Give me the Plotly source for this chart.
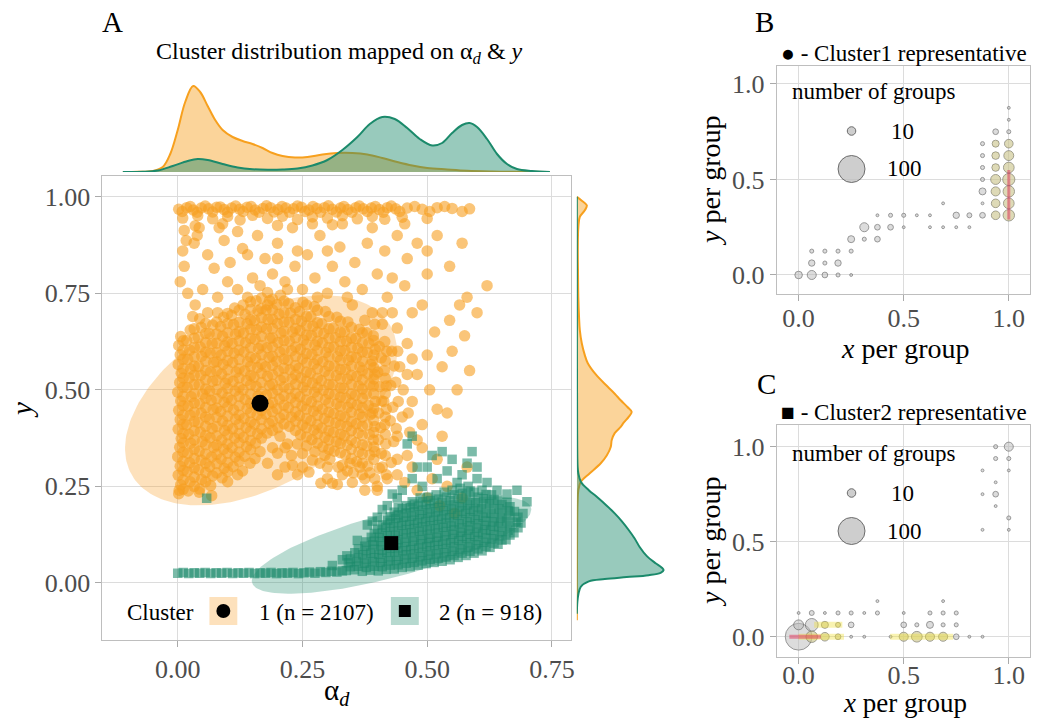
import numpy as np
import plotly.graph_objects as go

W, H = 1039, 724
FONT = "Liberation Serif"

# ---------------- Panel A data ----------------
orange_core = [
 (0.002,0.231),(0.006,0.254),(0.001,0.279),(0.005,0.302),(0.000,0.327),(0.004,0.351),(0.007,0.374),(0.001,0.398),(0.005,0.423),(0.002,0.447),(0.006,0.471),(0.000,0.494),(0.004,0.519),(0.007,0.543),(0.001,0.566),(0.005,0.591),(0.002,0.615),(0.006,0.638),
 (0.021,0.238),(0.025,0.262),(0.019,0.288),(0.024,0.311),(0.020,0.336),(0.026,0.362),(0.022,0.385),(0.018,0.409),(0.025,0.434),(0.021,0.458),(0.027,0.482),(0.019,0.506),(0.023,0.531),(0.026,0.554),(0.020,0.579),(0.024,0.603),(0.018,0.628),(0.025,0.655),
 (0.044,0.243),(0.048,0.268),(0.042,0.293),(0.047,0.318),(0.043,0.341),(0.049,0.366),(0.045,0.391),(0.041,0.415),(0.047,0.44),(0.044,0.464),(0.05,0.489),(0.043,0.513),(0.046,0.538),(0.042,0.561),(0.048,0.587),(0.045,0.611),(0.041,0.636),(0.047,0.662),(0.044,0.684),
 (0.066,0.252),(0.07,0.277),(0.064,0.301),(0.068,0.326),(0.072,0.351),(0.065,0.376),(0.069,0.4),(0.063,0.424),(0.071,0.449),(0.067,0.473),(0.064,0.497),(0.07,0.522),(0.066,0.547),(0.072,0.571),(0.065,0.595),(0.069,0.62),(0.063,0.646),(0.07,0.668),
 (0.089,0.272),(0.093,0.297),(0.087,0.321),(0.092,0.346),(0.088,0.37),(0.094,0.395),(0.09,0.419),(0.086,0.444),(0.093,0.468),(0.089,0.492),(0.095,0.517),(0.088,0.541),(0.091,0.566),(0.087,0.59),(0.094,0.614),(0.09,0.639),(0.086,0.664),(0.092,0.688),
 (0.111,0.301),(0.115,0.326),(0.109,0.35),(0.114,0.375),(0.11,0.399),(0.116,0.424),(0.112,0.448),(0.108,0.473),(0.115,0.497),(0.111,0.522),(0.117,0.546),(0.11,0.571),(0.113,0.595),(0.109,0.62),(0.116,0.644),(0.112,0.669),(0.108,0.693),(0.114,0.712),
 (0.134,0.328),(0.138,0.353),(0.132,0.377),(0.137,0.402),(0.133,0.426),(0.139,0.451),(0.135,0.475),(0.131,0.5),(0.138,0.524),(0.134,0.549),(0.14,0.573),(0.133,0.598),(0.136,0.622),(0.132,0.647),(0.139,0.671),(0.135,0.696),(0.131,0.72),
 (0.156,0.362),(0.16,0.386),(0.154,0.411),(0.159,0.435),(0.155,0.46),(0.161,0.484),(0.157,0.509),(0.153,0.533),(0.16,0.558),(0.156,0.582),(0.162,0.607),(0.155,0.631),(0.158,0.656),(0.154,0.68),(0.161,0.705),(0.157,0.731),
 (0.179,0.388),(0.183,0.413),(0.177,0.437),(0.182,0.462),(0.178,0.486),(0.184,0.511),(0.18,0.535),(0.176,0.56),(0.183,0.584),(0.179,0.609),(0.185,0.633),(0.178,0.658),(0.181,0.682),(0.177,0.707),(0.184,0.731),(0.18,0.752),
 (0.201,0.402),(0.205,0.427),(0.199,0.451),(0.204,0.476),(0.2,0.5),(0.206,0.525),(0.202,0.549),(0.198,0.574),(0.205,0.598),(0.201,0.623),(0.207,0.647),(0.2,0.672),(0.203,0.696),(0.199,0.721),(0.206,0.745),
 (0.224,0.405),(0.228,0.43),(0.222,0.454),(0.227,0.479),(0.223,0.503),(0.229,0.528),(0.225,0.552),(0.221,0.577),(0.228,0.601),(0.224,0.626),(0.23,0.65),(0.223,0.675),(0.226,0.699),(0.222,0.724),
 (0.246,0.384),(0.25,0.409),(0.244,0.433),(0.249,0.458),(0.245,0.482),(0.251,0.507),(0.247,0.531),(0.243,0.556),(0.25,0.58),(0.246,0.605),(0.252,0.629),(0.245,0.654),(0.248,0.678),(0.244,0.703),(0.251,0.727),
 (0.269,0.371),(0.273,0.396),(0.267,0.42),(0.272,0.445),(0.268,0.469),(0.274,0.494),(0.27,0.518),(0.266,0.543),(0.273,0.567),(0.269,0.592),(0.275,0.616),(0.268,0.641),(0.271,0.665),(0.267,0.69),(0.274,0.716),
 (0.291,0.352),(0.295,0.377),(0.289,0.401),(0.294,0.426),(0.29,0.45),(0.296,0.475),(0.292,0.499),(0.288,0.524),(0.295,0.548),(0.291,0.573),(0.297,0.597),(0.29,0.622),(0.293,0.646),(0.289,0.671),(0.296,0.703),
 (0.314,0.341),(0.318,0.366),(0.312,0.39),(0.317,0.415),(0.313,0.439),(0.319,0.464),(0.315,0.488),(0.311,0.513),(0.318,0.537),(0.314,0.562),(0.32,0.586),(0.313,0.611),(0.316,0.635),(0.312,0.66),(0.319,0.688),
 (0.336,0.332),(0.34,0.357),(0.334,0.381),(0.339,0.406),(0.335,0.43),(0.341,0.455),(0.337,0.479),(0.333,0.504),(0.34,0.528),(0.336,0.553),(0.342,0.577),(0.335,0.602),(0.338,0.626),(0.334,0.651),(0.341,0.676),
 (0.359,0.314),(0.363,0.339),(0.357,0.363),(0.362,0.388),(0.358,0.412),(0.364,0.437),(0.36,0.461),(0.356,0.486),(0.363,0.51),(0.359,0.535),(0.365,0.559),(0.358,0.584),(0.361,0.608),(0.357,0.633),(0.364,0.657),
 (0.381,0.303),(0.385,0.331),(0.379,0.355),(0.384,0.384),(0.38,0.409),(0.386,0.436),(0.382,0.46),(0.378,0.489),(0.385,0.515),(0.381,0.542),(0.387,0.566),(0.38,0.597),(0.383,0.621),(0.379,0.648),
 (0.404,0.297),(0.408,0.335),(0.402,0.371),(0.407,0.402),(0.403,0.44),(0.409,0.471),(0.405,0.508),(0.401,0.546),(0.408,0.583),(0.404,0.612),
 (0.428,0.312),(0.433,0.366),(0.426,0.42),(0.431,0.455),(0.427,0.511),(0.434,0.562),(0.429,0.6),
]
# second, offset layer of the dense core: column x -> y values
orange_core_cols = {
 0.011: [0.243,0.267,0.291,0.315,0.339,0.363,0.387,0.411,0.435,0.459,0.483,0.507,0.531,0.555,0.579,0.603,0.627],
 0.033: [0.25,0.274,0.298,0.322,0.346,0.37,0.394,0.418,0.442,0.466,0.49,0.514,0.538,0.562,0.586,0.61,0.634,0.658],
 0.056: [0.262,0.286,0.31,0.334,0.358,0.382,0.406,0.43,0.454,0.478,0.502,0.526,0.55,0.574,0.598,0.622,0.646,0.672],
 0.078: [0.285,0.309,0.333,0.357,0.381,0.405,0.429,0.453,0.477,0.501,0.525,0.549,0.573,0.597,0.621,0.645,0.676],
 0.100: [0.288,0.312,0.336,0.36,0.384,0.408,0.432,0.456,0.48,0.504,0.528,0.552,0.576,0.6,0.624,0.648,0.672,0.698],
 0.123: [0.315,0.339,0.363,0.387,0.411,0.435,0.459,0.483,0.507,0.531,0.555,0.579,0.603,0.627,0.651,0.675,0.706],
 0.146: [0.345,0.369,0.393,0.417,0.441,0.465,0.489,0.513,0.537,0.561,0.585,0.609,0.633,0.657,0.681,0.708,0.728],
 0.168: [0.375,0.399,0.423,0.447,0.471,0.495,0.519,0.543,0.567,0.591,0.615,0.639,0.663,0.687,0.711,0.738],
 0.190: [0.395,0.419,0.443,0.467,0.491,0.515,0.539,0.563,0.587,0.611,0.635,0.659,0.683,0.707,0.735],
 0.213: [0.412,0.436,0.46,0.484,0.508,0.532,0.556,0.58,0.604,0.628,0.652,0.676,0.7,0.73],
 0.236: [0.395,0.419,0.443,0.467,0.491,0.515,0.539,0.563,0.587,0.611,0.635,0.659,0.683,0.713],
 0.258: [0.378,0.402,0.426,0.45,0.474,0.498,0.522,0.546,0.57,0.594,0.618,0.642,0.666,0.69,0.72],
 0.280: [0.362,0.386,0.41,0.434,0.458,0.482,0.506,0.53,0.554,0.578,0.602,0.626,0.65,0.674,0.706],
 0.303: [0.346,0.37,0.394,0.418,0.442,0.466,0.49,0.514,0.538,0.562,0.586,0.61,0.634,0.658,0.69],
 0.326: [0.337,0.361,0.385,0.409,0.433,0.457,0.481,0.505,0.529,0.553,0.577,0.601,0.625,0.649,0.678],
 0.348: [0.322,0.346,0.37,0.394,0.418,0.442,0.466,0.49,0.514,0.538,0.562,0.586,0.61,0.634,0.662],
 0.370: [0.31,0.334,0.358,0.382,0.406,0.43,0.454,0.478,0.502,0.526,0.55,0.574,0.598,0.622,0.648],
 0.393: [0.32,0.352,0.39,0.421,0.452,0.49,0.528,0.557,0.59,0.628],
 0.416: [0.33,0.385,0.43,0.49,0.53,0.575],
}
orange_lower_right = [
 (0.205,0.38),(0.215,0.35),(0.228,0.33),(0.24,0.36),(0.25,0.335),(0.258,0.355),(0.275,0.34),(0.285,0.31),(0.295,0.33),(0.3,0.3),(0.305,0.32),(0.322,0.3),
 (0.33,0.28),(0.345,0.31),(0.352,0.285),(0.365,0.3),(0.37,0.28),(0.385,0.285),(0.395,0.27),(0.41,0.3),(0.418,0.28),(0.25,0.3),(0.24,0.28),(0.215,0.3),
 (0.3,0.27),(0.32,0.255),(0.35,0.26),(0.4,0.24),(0.375,0.24),(0.19,0.35),(0.165,0.34),(0.145,0.31),(0.12,0.28),(0.2,0.28),
 (0.395,0.34),(0.392,0.37),(0.395,0.405),(0.39,0.44),(0.396,0.47),(0.392,0.51),(0.395,0.54),(0.39,0.575),(0.396,0.605),(0.392,0.64),(0.417,0.36),(0.415,0.41),
 (0.418,0.45),(0.413,0.47),(0.418,0.51),(0.414,0.55),(0.419,0.6),(0.415,0.625),(0.44,0.32),(0.438,0.4),(0.442,0.47),(0.437,0.52),(0.441,0.6),(0.462,0.44),
 (0.46,0.54),(0.465,0.39),(0.47,0.58),(0.375,0.68),(0.395,0.67),(0.41,0.7),
]
orange_band = [
 (0.002,0.968),(0.018,0.972),(0.031,0.966),(0.047,0.971),(0.062,0.969),(0.078,0.973),(0.093,0.967),(0.108,0.971),(0.124,0.968),(0.139,0.973),(0.155,0.966),(0.171,0.97),
 (0.186,0.972),(0.201,0.967),(0.217,0.971),(0.232,0.969),(0.248,0.973),(0.263,0.966),(0.279,0.97),(0.294,0.972),(0.31,0.968),(0.326,0.971),(0.341,0.967),(0.357,0.972),
 (0.372,0.969),(0.388,0.971),(0.404,0.967),(0.42,0.972),(0.437,0.969),(0.46,0.971),(0.49,0.968),(0.52,0.972),(0.55,0.97),(0.585,0.969),
 (0.009,0.962),(0.025,0.975),(0.039,0.96),(0.055,0.976),(0.07,0.961),(0.085,0.974),(0.1,0.96),(0.116,0.976),(0.131,0.962),(0.147,0.975),(0.163,0.96),(0.178,0.977),
 (0.193,0.961),(0.209,0.975),(0.224,0.96),(0.24,0.976),(0.255,0.962),(0.271,0.975),(0.286,0.96),(0.302,0.977),(0.318,0.961),(0.333,0.975),(0.349,0.96),(0.364,0.976),
 (0.38,0.962),(0.396,0.975),(0.412,0.96),(0.428,0.976),(0.445,0.962),(0.475,0.975),(0.505,0.962),(0.535,0.975),(0.57,0.962),
 (0.01,0.945),(0.04,0.951),(0.07,0.943),(0.1,0.949),(0.125,0.94),(0.15,0.952),(0.18,0.944),(0.21,0.95),(0.24,0.941),(0.27,0.948),(0.3,0.945),(0.33,0.951),
 (0.36,0.943),(0.39,0.949),(0.415,0.942),(0.45,0.947),(0.5,0.944),(0.035,0.925),(0.09,0.93),(0.2,0.926),(0.31,0.928),
]
orange_sparse = [
 (0.01,0.86),(0.013,0.82),(0.017,0.887),(0.033,0.88),(0.039,0.9),(0.013,0.913),(0.073,0.815),(0.093,0.887),(0.13,0.866),(0.14,0.85),(0.083,0.92),(0.043,0.92),
 (0.005,0.78),(0.02,0.75),(0.035,0.72),(0.05,0.76),(0.06,0.7),(0.08,0.74),(0.1,0.78),(0.12,0.76),(0.105,0.83),(0.15,0.79),(0.165,0.77),(0.19,0.8),(0.175,0.84),
 (0.2,0.88),(0.215,0.78),(0.235,0.82),(0.25,0.76),(0.26,0.85),(0.275,0.79),(0.285,0.9),(0.3,0.75),(0.31,0.82),(0.325,0.87),(0.335,0.78),(0.35,0.72),(0.355,0.83),
 (0.37,0.76),(0.38,0.88),(0.39,0.7),(0.4,0.8),(0.41,0.67),(0.415,0.86),(0.43,0.79),(0.44,0.9),(0.46,0.84),(0.48,0.88),(0.5,0.86),(0.52,0.9),(0.545,0.82),(0.57,0.88),
 (0.23,0.92),(0.16,0.9),(0.06,0.85),(0.12,0.91),(0.27,0.93),(0.33,0.93),(0.39,0.92),(0.455,0.93),(0.18,0.72),(0.22,0.76),(0.28,0.74),(0.34,0.74),(0.14,0.74),
 (0.08,0.7),(0.03,0.69),(0.24,0.86),(0.3,0.86),(0.2,0.84),
]
orange_outliers = [
 (0.13,0.29),(0.18,0.31),(0.2,0.336),(0.22,0.36),(0.23,0.305),(0.27,0.318),(0.263,0.287),(0.287,0.258),(0.31,0.258),(0.003,0.24),(0.043,0.235),(0.068,0.226),
 (0.1,0.262),(0.155,0.322),(0.34,0.29),(0.33,0.305),
 (0.44,0.28),(0.455,0.26),(0.47,0.3),(0.48,0.24),(0.5,0.22),(0.51,0.27),(0.525,0.2),(0.54,0.25),(0.555,0.18),(0.57,0.22),(0.46,0.33),(0.42,0.27),(0.4,0.25),
 (0.375,0.27),(0.49,0.35),(0.52,0.32),(0.58,0.3),
 (0.44,0.38),(0.45,0.43),(0.452,0.5),(0.445,0.56),(0.46,0.62),(0.44,0.66),(0.47,0.47),(0.48,0.54),(0.49,0.41),(0.5,0.59),(0.505,0.5),(0.52,0.45),(0.515,0.65),
 (0.53,0.56),(0.545,0.68),(0.55,0.6),(0.56,0.5),(0.565,0.72),(0.58,0.74),(0.575,0.64),(0.6,0.7),(0.62,0.77),(0.47,0.7),(0.49,0.72),(0.43,0.7),(0.42,0.74),
 (0.455,0.77),(0.5,0.8),(0.48,0.37),(0.53,0.38),(0.54,0.44),(0.585,0.55),
]
green_line = [
 (0.0,0.025),(0.011,0.027),(0.022,0.024),(0.033,0.026),(0.044,0.025),(0.055,0.027),(0.066,0.024),(0.077,0.026),(0.088,0.025),(0.099,0.027),(0.11,0.024),
 (0.121,0.026),(0.132,0.025),(0.143,0.027),(0.154,0.024),(0.165,0.026),(0.176,0.025),(0.187,0.027),(0.198,0.024),(0.209,0.026),(0.22,0.025),(0.231,0.027),
 (0.242,0.024),(0.253,0.026),(0.264,0.028),(0.275,0.025),(0.286,0.029),(0.297,0.027),(0.308,0.03),(0.319,0.028),(0.33,0.031),
]
green_blob = [
 (0.338,0.032),(0.342,0.052),(0.339,0.07),(0.354,0.034),(0.358,0.055),(0.355,0.078),
 (0.37,0.03),(0.374,0.051),(0.371,0.073),(0.375,0.095),(0.386,0.033),(0.39,0.055),(0.387,0.077),(0.391,0.099),(0.388,0.118),
 (0.402,0.031),(0.406,0.053),(0.403,0.074),(0.407,0.096),(0.404,0.118),(0.401,0.139),
 (0.418,0.035),(0.422,0.057),(0.419,0.079),(0.423,0.1),(0.42,0.122),(0.417,0.144),(0.421,0.162),
 (0.434,0.036),(0.438,0.058),(0.435,0.08),(0.439,0.101),(0.436,0.123),(0.433,0.145),(0.437,0.167),(0.434,0.183),
 (0.45,0.04),(0.454,0.062),(0.451,0.083),(0.455,0.105),(0.452,0.127),(0.449,0.149),(0.453,0.17),(0.45,0.192),
 (0.466,0.042),(0.47,0.064),(0.467,0.086),(0.471,0.108),(0.468,0.13),(0.465,0.151),(0.469,0.173),(0.466,0.195),(0.47,0.21),
 (0.482,0.046),(0.486,0.068),(0.483,0.09),(0.487,0.112),(0.484,0.134),(0.481,0.155),(0.485,0.177),(0.482,0.199),(0.486,0.22),
 (0.498,0.05),(0.502,0.072),(0.499,0.094),(0.503,0.115),(0.5,0.137),(0.497,0.159),(0.501,0.181),(0.498,0.203),(0.502,0.222),
 (0.514,0.053),(0.518,0.075),(0.515,0.097),(0.519,0.118),(0.516,0.14),(0.513,0.162),(0.517,0.184),(0.514,0.206),(0.518,0.228),
 (0.53,0.056),(0.534,0.078),(0.531,0.1),(0.535,0.122),(0.532,0.144),(0.529,0.165),(0.533,0.187),(0.53,0.209),(0.534,0.235),
 (0.546,0.06),(0.55,0.082),(0.547,0.104),(0.551,0.126),(0.548,0.147),(0.545,0.169),(0.549,0.191),(0.546,0.213),(0.55,0.24),
 (0.562,0.066),(0.566,0.088),(0.563,0.11),(0.567,0.131),(0.564,0.153),(0.561,0.175),(0.565,0.197),(0.562,0.219),(0.566,0.245),
 (0.578,0.071),(0.582,0.093),(0.579,0.115),(0.583,0.137),(0.58,0.158),(0.577,0.18),(0.581,0.202),(0.578,0.226),(0.582,0.25),
 (0.594,0.077),(0.598,0.099),(0.595,0.12),(0.599,0.142),(0.596,0.164),(0.593,0.186),(0.597,0.208),(0.594,0.235),
 (0.61,0.083),(0.614,0.105),(0.611,0.127),(0.615,0.149),(0.612,0.17),(0.609,0.192),(0.613,0.218),(0.61,0.24),
 (0.626,0.092),(0.63,0.114),(0.627,0.136),(0.631,0.158),(0.628,0.18),(0.625,0.205),(0.629,0.228),
 (0.642,0.1),(0.646,0.122),(0.643,0.145),(0.647,0.168),(0.644,0.192),(0.641,0.215),
 (0.658,0.112),(0.662,0.136),(0.659,0.16),(0.663,0.186),(0.66,0.208),(0.674,0.13),(0.678,0.158),(0.675,0.185),(0.688,0.155),(0.692,0.18),
]
green_blob_cols = {
 0.346: [0.042,0.062], 0.362: [0.043,0.065,0.088], 0.378: [0.04,0.062,0.084,0.106],
 0.394: [0.043,0.065,0.087,0.108,0.128], 0.410: [0.042,0.064,0.085,0.107,0.129,0.15],
 0.426: [0.046,0.068,0.09,0.111,0.133,0.155,0.172], 0.442: [0.047,0.069,0.091,0.112,0.134,0.156,0.176,0.195],
 0.458: [0.051,0.073,0.094,0.116,0.138,0.16,0.181,0.2], 0.474: [0.053,0.075,0.097,0.119,0.141,0.162,0.184,0.204],
 0.490: [0.057,0.079,0.101,0.123,0.145,0.166,0.188,0.21], 0.506: [0.061,0.083,0.105,0.126,0.148,0.17,0.192,0.213],
 0.522: [0.064,0.086,0.108,0.129,0.151,0.173,0.195,0.217], 0.538: [0.067,0.089,0.111,0.133,0.155,0.176,0.198,0.222],
 0.554: [0.071,0.093,0.115,0.137,0.158,0.18,0.202,0.228], 0.570: [0.077,0.099,0.121,0.142,0.164,0.186,0.208,0.232],
 0.586: [0.082,0.104,0.126,0.148,0.169,0.191,0.214,0.238], 0.602: [0.088,0.11,0.131,0.153,0.175,0.197,0.222],
 0.618: [0.094,0.116,0.138,0.16,0.181,0.205,0.229], 0.634: [0.103,0.125,0.147,0.169,0.192,0.216],
 0.650: [0.111,0.133,0.156,0.18,0.203], 0.666: [0.124,0.148,0.173,0.197], 0.682: [0.143,0.17],
}
green_sparse = [
 (0.45,0.24),(0.47,0.27),(0.49,0.25),(0.5,0.3),(0.52,0.27),(0.54,0.29),(0.55,0.32),(0.57,0.28),(0.58,0.31),(0.6,0.27),(0.62,0.26),(0.46,0.36),(0.47,0.38),
 (0.53,0.34),(0.44,0.22),(0.42,0.2),(0.4,0.17),(0.38,0.15),(0.36,0.11),(0.33,0.06),(0.31,0.045),(0.64,0.24),(0.66,0.23),(0.7,0.21),(0.68,0.24),(0.59,0.34),
 (0.51,0.33),(0.058,0.219),(0.43,0.23),(0.48,0.3),(0.56,0.26),(0.6,0.3),(0.41,0.19),(0.39,0.16),
]
rep1_point = (0.165, 0.465)
rep2_point = (0.428, 0.103)
# confidence ellipses: centre, semi-axis vector U, semi-axis vector V (data units)
ellipse1 = dict(c=(0.167, 0.473), u=(0.259, 0.194), v=(-0.085, 0.191))
ellipse2 = dict(c=(0.4286, 0.0977), u=(0.2796, 0.0972), v=(-0.01654, 0.0801))

# marginal densities (relative heights)
orange_top_x = [-0.11,-0.08,-0.05,-0.03,-0.015,0.0,0.015,0.031,0.045,0.06,0.075,0.09,0.11,0.13,0.15,0.17,0.19,0.21,0.235,0.26,0.29,0.32,0.35,0.38,0.41,0.44,0.47,0.5,0.54,0.58,0.63,0.68,0.746]
orange_top_d = [0,0.2,1,5,18,42,70,86,80,66,52,42,35,31,28,24,19,16,14.5,15,17.5,19,19,17.5,14,10,6.5,4,2.5,1.2,0.5,0.2,0]
green_top_x = [-0.11,-0.07,-0.04,-0.01,0.02,0.04,0.06,0.09,0.12,0.15,0.18,0.21,0.24,0.27,0.3,0.33,0.36,0.385,0.41,0.435,0.46,0.485,0.51,0.53,0.55,0.57,0.585,0.6,0.62,0.64,0.66,0.68,0.71,0.746]
green_top_d = [0,0.2,1.5,6,11,13,12,8,4.5,2.8,2.3,2.5,3.5,6.5,12,22,35,48,55,53,44,33,26.5,29,39,47,49,45,33,18,8,3,1,0]
orange_right_y = [1.0,0.99,0.978,0.965,0.948,0.92,0.87,0.8,0.74,0.69,0.655,0.62,0.59,0.569,0.54,0.508,0.49,0.473,0.455,0.443,0.43,0.415,0.404,0.388,0.37,0.352,0.33,0.31,0.284,0.262,0.24,0.21,0.18,0.12,0.05,0.0,-0.05,-0.097]
orange_right_d = [0,5,10,8,3,1.5,1,1.2,1.5,2.2,3,5,8,11,19,31,38,44,51,55,52,47,44,38,35,34,30,24,13,4,1.5,0.8,0.5,0.3,0.2,0.1,0.05,0]
green_right_y = [1.0,0.6,0.4,0.3,0.284,0.262,0.24,0.223,0.2,0.18,0.16,0.137,0.115,0.093,0.07,0.051,0.04,0.033,0.026,0.02,0.015,0.01,0.004,-0.01,-0.03,-0.05,-0.08]
green_right_d = [0,0.1,0.3,0.8,1.5,4,12,20,30,38,45,52,58,63,70,79,85,87,84,72,50,28,12,4,1.5,0.5,0]

# ---------------- Panels B / C data: (x*16, y*16, number of groups) ----------------
groups_b = [
 (0,0,7),(1,0,10),(2,0,4),(3,0,2),(4,0,1),(1,1,5),(2,1,2),(3,1,5),(1,2,2),(2,2,2),(3,2,2),(4,2,2),
 (4,3,6),(5,3,2),(6,3,4),(5,4,10),(6,4,4),(7,4,4),(8,4,1),(10,4,1),(11,4,1),(12,4,1),(13,4,1),
 (6,5,1),(7,5,2),(8,5,2),(9,5,1),(10,5,1),(12,5,5),(13,5,3),(14,5,4),(15,5,9),(16,5,16),
 (11,6,1),(14,6,1),(15,6,9),(16,6,14),(14,7,6),(15,7,10),(16,7,16),(14,8,2),(15,8,12),(16,8,18),
 (14,9,2),(15,9,7),(16,9,14),(14,10,2),(15,10,7),(16,10,12),(14,11,2),(15,11,6),(16,11,9),
 (15,12,4),(16,12,2),(16,13,1),(16,14,1),
]
rep_b = [(15,5,9),(16,5,16),(15,6,9),(16,6,14),(15,7,10),(16,7,16),(15,8,12),(16,8,18),(15,9,7),(16,9,14),(15,10,7),(16,10,12),(15,11,6),(16,11,9)]
rep_b_red = [(1.0, 0.29), (1.0, 0.55)]
groups_c = [
 (15,16,2),(16,16,10),(15,15,2),(16,15,2),(14,14,1),(16,14,1),(15,13,1),(14,12,1),(15,12,4),(15,11,1),(16,10,2),(14,9,1),(16,9,1),
 (0,0,88),(1,0,16),(2,0,9),(3,0,4),(4,0,1),(5,0,1),(7,0,1),(8,0,10),(9,0,14),(10,0,10),(11,0,10),(12,0,4),(13,0,1),(14,0,1),
 (0,1,12),(1,1,20),(2,1,6),(3,1,3),(4,1,4),(8,1,4),(9,1,2),(10,1,6),(11,1,2),(12,1,2),
 (0,2,1),(1,2,3),(2,2,1),(3,2,2),(4,2,2),(5,2,1),(6,2,2),(8,2,1),(10,2,2),(11,2,2),(12,2,2),
 (6,3,1),(11,3,1),
]
rep_c = [(1,0,16),(2,0,9),(3,0,4),(8,0,10),(9,0,14),(10,0,10),(11,0,10),(2,1,6),(3,1,3)]
rep_c_yellow = [[(0.0,0.0),(0.216,0.0)],[(0.436,0.0),(0.735,0.0)],[(0.074,0.0625),(0.208,0.0625)]]
rep_c_red = [(-0.044, 0.0), (0.105, 0.0)]

# ---------------- helpers ----------------
def pxx(x):
    return x / W

def pxy(y):
    return 1 - y / H

def bubble_size(n):
    return [2.85 * np.sqrt(v) for v in n]

def cols_to_pts(cols):
    return [(cx, cy) for cx, ys in cols.items() for cy in ys]

fig = go.Figure()

# ellipses
for e, col in [(ellipse1, "rgba(249,161,46,0.32)"), (ellipse2, "rgba(27,138,107,0.3)")]:
    t = np.linspace(0, 2 * np.pi, 200)
    ex = e["c"][0] + e["u"][0] * np.cos(t) + e["v"][0] * np.sin(t)
    ey = e["c"][1] + e["u"][1] * np.cos(t) + e["v"][1] * np.sin(t)
    fig.add_trace(go.Scatter(x=ex, y=ey, mode="lines", fill="toself", fillcolor=col,
                             line=dict(width=0), hoverinfo="skip", xaxis="x", yaxis="y"))

orange_all = orange_core + cols_to_pts(orange_core_cols) + orange_lower_right + orange_band + orange_sparse + orange_outliers
green_all = green_line + green_blob + cols_to_pts(green_blob_cols) + green_sparse
fig.add_trace(go.Scatter(x=[p[0] for p in orange_all], y=[p[1] for p in orange_all], mode="markers",
                         marker=dict(symbol="circle", size=11.5, color="rgba(247,158,32,0.6)", line=dict(width=0)),
                         xaxis="x", yaxis="y"))
fig.add_trace(go.Scatter(x=[p[0] for p in green_all], y=[p[1] for p in green_all], mode="markers",
                         marker=dict(symbol="square", size=9.5, color="rgba(27,138,107,0.58)", line=dict(width=0)),
                         xaxis="x", yaxis="y"))
fig.add_trace(go.Scatter(x=[rep1_point[0]], y=[rep1_point[1]], mode="markers",
                         marker=dict(symbol="circle", size=17, color="black"), xaxis="x", yaxis="y"))
fig.add_trace(go.Scatter(x=[rep2_point[0]], y=[rep2_point[1]], mode="markers",
                         marker=dict(symbol="square", size=14, color="black"), xaxis="x", yaxis="y"))

# top marginal
fig.add_trace(go.Scatter(x=orange_top_x, y=orange_top_d, mode="lines", line=dict(color="#F7A01E", width=2, shape="spline"),
                         fill="tozeroy", fillcolor="rgba(247,160,30,0.45)", xaxis="x2", yaxis="y2"))
fig.add_trace(go.Scatter(x=green_top_x, y=green_top_d, mode="lines", line=dict(color="#1B8A6B", width=2, shape="spline"),
                         fill="tozeroy", fillcolor="rgba(27,138,107,0.45)", xaxis="x2", yaxis="y2"))
# right marginal
fig.add_trace(go.Scatter(x=orange_right_d, y=orange_right_y, mode="lines", line=dict(color="#F7A01E", width=2, shape="spline"),
                         fill="tozerox", fillcolor="rgba(247,160,30,0.45)", xaxis="x3", yaxis="y3"))
fig.add_trace(go.Scatter(x=green_right_d, y=green_right_y, mode="lines", line=dict(color="#1B8A6B", width=2, shape="spline"),
                         fill="tozerox", fillcolor="rgba(27,138,107,0.45)", xaxis="x3", yaxis="y3"))

# panels B and C
def add_bubbles(groups, rep, xa, ya):
    fig.add_trace(go.Scatter(x=[g[0] / 16 for g in groups], y=[g[1] / 16 for g in groups], mode="markers",
                             marker=dict(size=bubble_size([g[2] for g in groups]), sizemode="diameter",
                                         color="rgba(190,190,190,0.75)", line=dict(color="rgba(95,95,95,0.9)", width=1)),
                             xaxis=xa, yaxis=ya))
    fig.add_trace(go.Scatter(x=[g[0] / 16 for g in rep], y=[g[1] / 16 for g in rep], mode="markers",
                             marker=dict(size=bubble_size([g[2] for g in rep]), sizemode="diameter",
                                         color="rgba(232,214,70,0.35)", line=dict(width=0)),
                             xaxis=xa, yaxis=ya))

add_bubbles(groups_b, rep_b, "x4", "y4")
fig.add_trace(go.Scatter(x=[p[0] for p in rep_b_red], y=[p[1] for p in rep_b_red], mode="lines",
                         line=dict(color="rgba(225,50,90,0.5)", width=3), xaxis="x4", yaxis="y4"))
add_bubbles(groups_c, rep_c, "x5", "y5")
for seg in rep_c_yellow:
    fig.add_trace(go.Scatter(x=[p[0] for p in seg], y=[p[1] for p in seg], mode="lines",
                             line=dict(color="rgba(240,225,60,0.4)", width=6), xaxis="x5", yaxis="y5"))
fig.add_trace(go.Scatter(x=[p[0] for p in rep_c_red], y=[p[1] for p in rep_c_red], mode="lines",
                         line=dict(color="rgba(225,50,90,0.5)", width=4), xaxis="x5", yaxis="y5"))

# ---------------- layout ----------------
grid = "#DCDCDC"
border = "#BEBEBE"
tickfont = dict(family=FONT, size=26, color="#4D4D4D")
common = dict(showgrid=True, gridcolor=grid, gridwidth=1.2, zeroline=False, showline=True, linecolor=border,
              linewidth=1, mirror=True, ticks="outside", ticklen=6, tickcolor="#AAAAAA", tickfont=tickfont)

main_x_dom = [pxx(102.7), pxx(573)]
main_y_dom = [pxy(640), pxy(176)]
bc_x_dom = [pxx(779), pxx(1033)]

layout = dict(
    width=W, height=H, margin=dict(l=0, r=0, t=0, b=0), showlegend=False,
    paper_bgcolor="white", plot_bgcolor="white", font=dict(family=FONT),
    xaxis=dict(domain=main_x_dom, range=[-0.151, 0.789], tickvals=[0, 0.25, 0.5, 0.75],
               ticktext=["0.00", "0.25", "0.50", "0.75"], anchor="y", **common),
    yaxis=dict(domain=main_y_dom, range=[-0.148, 1.054], tickvals=[0, 0.25, 0.5, 0.75, 1.0],
               ticktext=["0.00", "0.25", "0.50", "0.75", "1.00"], anchor="x", **common),
    xaxis2=dict(domain=main_x_dom, range=[-0.151, 0.789], visible=False, anchor="y2"),
    yaxis2=dict(domain=[pxy(172), pxy(76)], range=[0, 96], visible=False, anchor="x2"),
    xaxis3=dict(domain=[pxx(578.5), pxx(678.5)], range=[0, 100], visible=False, anchor="y3"),
    yaxis3=dict(domain=main_y_dom, range=[-0.148, 1.054], visible=False, anchor="x3"),
    xaxis4=dict(domain=bc_x_dom, range=[-0.104, 1.101], tickvals=[0, 0.5, 1], ticktext=["0.0", "0.5", "1.0"],
                anchor="y4", ticklabelstandoff=-5, **common),
    yaxis4=dict(domain=[pxy(294), pxy(66)], range=[-0.0995, 1.094], tickvals=[0, 0.5, 1], ticktext=["0.0", "0.5", "1.0"], anchor="x4", **common),
    xaxis5=dict(domain=bc_x_dom, range=[-0.104, 1.101], tickvals=[0, 0.5, 1], ticktext=["0.0", "0.5", "1.0"],
                anchor="y5", ticklabelstandoff=-11, **common),
    yaxis5=dict(domain=[pxy(656.7), pxy(425)], range=[-0.105, 1.114], tickvals=[0, 0.5, 1], ticktext=["0.0", "0.5", "1.0"], anchor="x5", **common),
)
fig.update_layout(**layout)

ann = []
def text(x, y, s, size, xanchor="center", angle=0, color="black"):
    ann.append(dict(x=pxx(x), y=pxy(y), xref="paper", yref="paper", text=s, showarrow=False,
                    xanchor=xanchor, yanchor="middle", textangle=angle,
                    font=dict(family=FONT, size=size, color=color)))

text(113, 22, "A", 29)
text(767, 22, "B", 29)
text(769, 384, "C", 29)
text(340, 53, "Cluster distribution mapped on α<sub><i>d</i></sub> &amp; <i>y</i>", 24)
text(338, 692, "α<sub><i>d</i></sub>", 29)
text(22, 410, "<i>y</i>", 29, angle=-90)
text(908, 348, "<i>x</i> per group", 28)
text(712, 180, "<i>y</i> per group", 28, angle=-90)
text(908, 703, "<i>x</i> per group", 27)
text(712, 541, "<i>y</i> per group", 28, angle=-90)
text(781, 53, "● - Cluster1 representative", 23, xanchor="left")
text(781, 412, "■ - Cluster2 representative", 23, xanchor="left")
for y0 in (91, 453):
    text(792, y0, "number of groups", 23, xanchor="left")
    text(892, y0 + 40, "10", 23, xanchor="left")
    text(888, y0 + 78, "100", 23, xanchor="left")
# main legend text
text(125, 612, "Cluster", 23, xanchor="left")
text(258, 612, "1 (n = 2107)", 23, xanchor="left")
text(438, 612, "2 (n = 918)", 23, xanchor="left")

shapes = []
def rect(x0, y0, x1, y1, fill):
    shapes.append(dict(type="rect", xref="paper", yref="paper", x0=pxx(x0), x1=pxx(x1), y0=pxy(y1), y1=pxy(y0),
                       fillcolor=fill, line=dict(width=0), layer="above"))
def circ(cx, cy, r, fill, line=None):
    shapes.append(dict(type="circle", xref="paper", yref="paper", x0=pxx(cx - r), x1=pxx(cx + r), y0=pxy(cy + r), y1=pxy(cy - r),
                       fillcolor=fill, line=line or dict(width=0), layer="above"))

rect(210, 597, 238, 625, "rgba(249,161,46,0.32)")
circ(224, 611, 7, "black")
rect(392, 597, 420, 625, "rgba(27,138,107,0.32)")
rect(400, 605, 412, 617, "black")
for y0 in (91, 453):
    r10 = 2.7 * np.sqrt(10) / 2
    r100 = 2.7 * np.sqrt(100) / 2
    circ(854, y0 + 40, r10, "rgba(190,190,190,0.75)", dict(color="rgba(95,95,95,0.9)", width=1))
    circ(854, y0 + 78, r100, "rgba(190,190,190,0.75)", dict(color="rgba(95,95,95,0.9)", width=1))

fig.update_layout(annotations=ann, shapes=shapes)
fig.write_html("out.html")
